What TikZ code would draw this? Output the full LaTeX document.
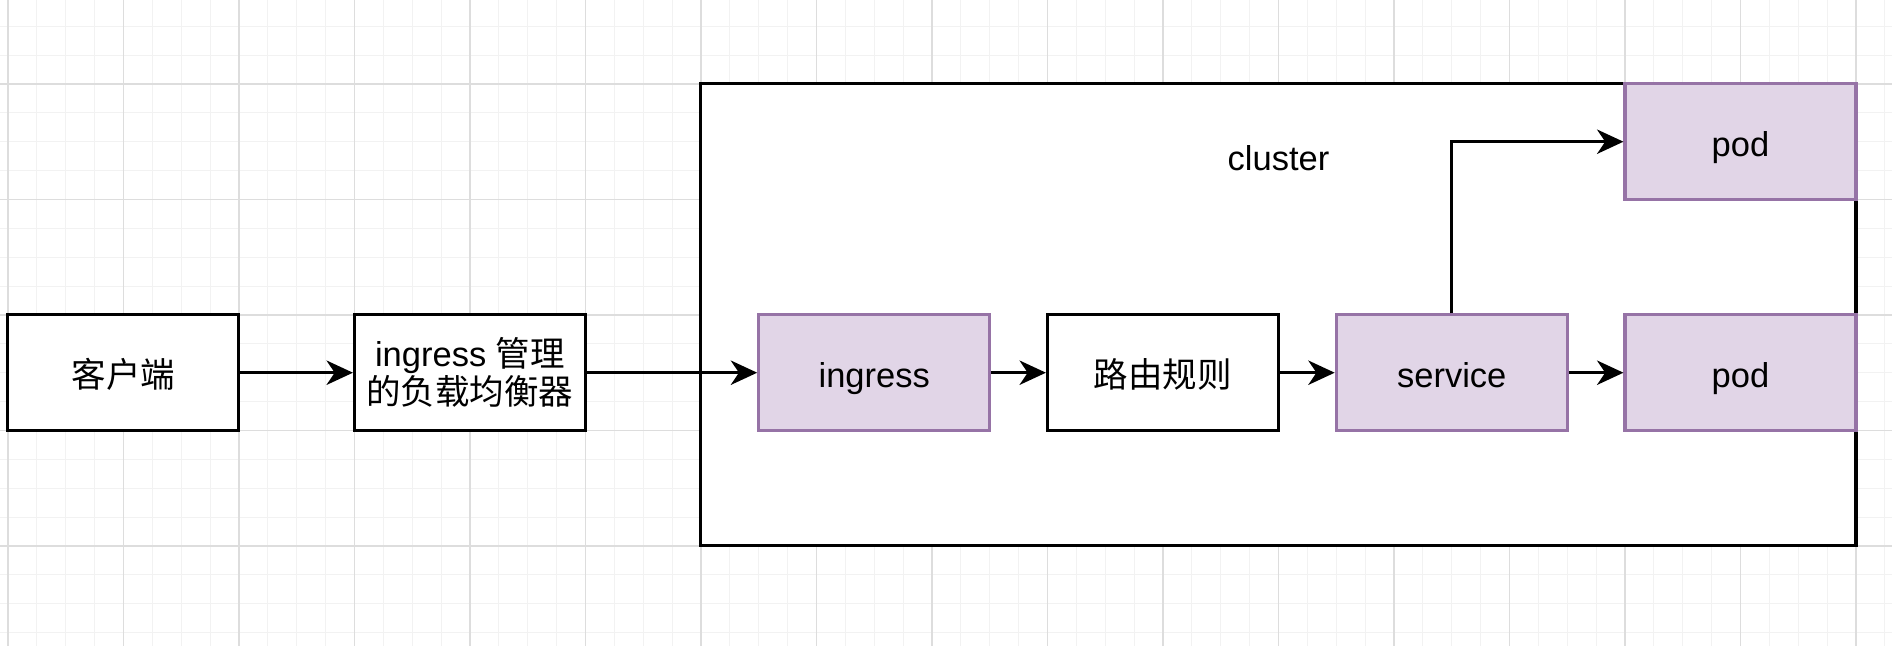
\documentclass[tikz,border=0pt]{standalone}
\usepackage{fontspec}
\setmainfont{Liberation Sans}
\newfontfamily\cjk{Noto Sans CJK SC}
\usetikzlibrary{arrows.meta}

\definecolor{podfill}{HTML}{E1D5E7}
\definecolor{poddraw}{HTML}{9673A6}
\definecolor{gridminor}{HTML}{F2F2F2}
\definecolor{gridmajor}{HTML}{DDDDDD}

\tikzset{
	box/.style={shape=rectangle, draw=black, fill=white, line width=1.5pt,
		minimum width=4cm, minimum height=2cm, inner sep=0pt, align=center,
		font=\fontsize{17}{18.8}\selectfont},
	oneline/.style={text height=16pt, text depth=1.5pt},
	podbox/.style={box, oneline, draw=poddraw, fill=podfill},
	link/.style={-{Stealth[length=13pt, width=12pt, inset=4pt]}, line width=1.4pt},
}

\begin{document}
\begin{tikzpicture}[x=2cm, y=2cm]
	
	\useasboundingbox (-0.069,-0.866) rectangle (16.312,4.727);
	\fill[white] (-0.069,-0.866) rectangle (16.312,4.727);
	
	% background grid
	\draw[gridminor, line width=0.5pt, step=0.25] (-0.069,-0.866) grid (16.312,4.727);
	\draw[gridmajor, line width=0.6pt, step=1] (-0.069,-0.866) grid (16.312,4.727);
	
	\node[shape=rectangle,draw=black,fill=white,line width=1.5pt,minimum width=20cm,minimum height=8cm] (cluster) at (11, 2) {};
	\node[font=\fontsize{17}{18.8}\selectfont, oneline] (clusterlabel) at (11, 3.38) {cluster};
	
	\node[box, oneline] (client)  at (1, 1.5)    {\cjk 客户端};
	\node[box]          (lb)      at (4, 1.5)    {ingress {\cjk 管理}\\{\cjk 的负载均衡器}};
	\node[podbox]       (ingress) at (7.5, 1.5)  {ingress};
	\node[box, oneline] (rules)   at (10, 1.5)   {\cjk 路由规则};
	\node[podbox]       (service) at (12.5, 1.5) {service};
	\node[podbox]       (pod)     at (15, 1.5)   {pod};
	\node[podbox]       (podtop)  at (15, 3.5)   {pod};
	
	\path[link] (client) edge (lb);
	\path[link] (lb) edge (ingress);
	\path[link] (ingress) edge (rules);
	\path[link] (rules) edge (service);
	\path[link] (service) edge (pod);
	\draw[link] (service) |- (podtop);
	
\end{tikzpicture}
\end{document}
